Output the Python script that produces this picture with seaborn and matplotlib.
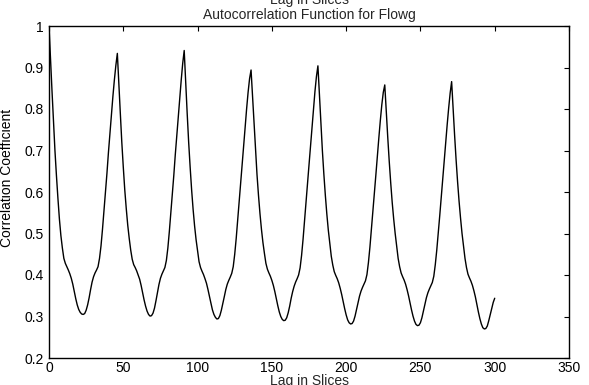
import matplotlib
matplotlib.use("Agg")
import matplotlib.pyplot as plt
import seaborn as sns
import numpy as np
import pandas as pd

# Lag (slices) and autocorrelation values, one per lag 0..300
lag = list(range(0, 301))
corr = [
    # 0-46
    1.0, 0.92, 0.845, 0.77, 0.70, 0.64, 0.585, 0.535, 0.495, 0.465,
    0.44, 0.428, 0.42, 0.412, 0.403, 0.392, 0.378, 0.36, 0.343, 0.328,
    0.317, 0.31, 0.306, 0.305, 0.307, 0.315, 0.328, 0.345, 0.365, 0.383,
    0.396, 0.405, 0.412, 0.42, 0.44, 0.47, 0.51, 0.555, 0.60, 0.645,
    0.695, 0.74, 0.785, 0.83, 0.87, 0.905,
    # 46-90
    0.934, 0.86, 0.79, 0.72, 0.66, 0.605, 0.56, 0.52, 0.488, 0.46,
    0.438, 0.425, 0.418, 0.41, 0.40, 0.39, 0.375, 0.357, 0.34, 0.325,
    0.313, 0.305, 0.301, 0.302, 0.308, 0.32, 0.338, 0.358, 0.377, 0.392,
    0.402, 0.41, 0.418, 0.435, 0.465, 0.505, 0.55, 0.595, 0.64, 0.69,
    0.735, 0.78, 0.825, 0.87, 0.91,
    # 91-135
    0.941, 0.865, 0.79, 0.72, 0.66, 0.605, 0.558, 0.518, 0.485, 0.458,
    0.432, 0.418, 0.409, 0.401, 0.391, 0.38, 0.365, 0.348, 0.332, 0.316,
    0.305, 0.298, 0.294, 0.295, 0.302, 0.315, 0.331, 0.348, 0.365, 0.378,
    0.387, 0.395, 0.404, 0.42, 0.45, 0.488, 0.532, 0.576, 0.62, 0.666,
    0.71, 0.755, 0.80, 0.84, 0.873,
    # 136-180
    0.894, 0.83, 0.762, 0.698, 0.642, 0.592, 0.548, 0.51, 0.478, 0.452,
    0.428, 0.414, 0.405, 0.397, 0.387, 0.375, 0.36, 0.343, 0.326, 0.311,
    0.30, 0.293, 0.29, 0.291, 0.297, 0.309, 0.325, 0.344, 0.36, 0.373,
    0.383, 0.391, 0.40, 0.417, 0.447, 0.486, 0.53, 0.574, 0.62, 0.665,
    0.71, 0.755, 0.80, 0.842, 0.878,
    # 181-225
    0.904, 0.835, 0.765, 0.70, 0.643, 0.592, 0.547, 0.508, 0.476, 0.445,
    0.424, 0.408, 0.399, 0.391, 0.381, 0.368, 0.353, 0.336, 0.319, 0.304,
    0.292, 0.285, 0.282, 0.283, 0.289, 0.301, 0.317, 0.334, 0.349, 0.361,
    0.37, 0.378, 0.386, 0.401, 0.43, 0.467, 0.51, 0.553, 0.597, 0.641,
    0.686, 0.73, 0.772, 0.81, 0.84,
    # 226-270
    0.858, 0.795, 0.732, 0.674, 0.622, 0.575, 0.535, 0.50, 0.47, 0.44,
    0.42, 0.405, 0.396, 0.388, 0.378, 0.365, 0.35, 0.333, 0.316, 0.301,
    0.289, 0.281, 0.278, 0.279, 0.285, 0.297, 0.313, 0.33, 0.345, 0.357,
    0.366, 0.374, 0.382, 0.397, 0.425, 0.46, 0.50, 0.543, 0.587, 0.632,
    0.676, 0.72, 0.762, 0.802, 0.838,
    # 271-300
    0.866, 0.80, 0.737, 0.678, 0.625, 0.578, 0.537, 0.50, 0.47, 0.44,
    0.418, 0.402, 0.393, 0.385, 0.375, 0.362, 0.347, 0.329, 0.311, 0.295,
    0.282, 0.273, 0.27, 0.271, 0.277, 0.29, 0.305, 0.32, 0.334, 0.344,
]

xticks = [0, 50, 100, 150, 200, 250, 300, 350]
yticks = [0.2, 0.3, 0.4, 0.5, 0.6, 0.7, 0.8, 0.9, 1.0]
ytick_labels = ["0.2", "0.3", "0.4", "0.5", "0.6", "0.7", "0.8", "0.9", "1"]

title_text = "Autocorrelation Function for Flowg"
top_text = "Lag in Slices"
xlabel_text = "Lag in Slices"
ylabel_text = "Correlation Coefficient"

sns.set_theme(style="white")
plt.rcParams["font.family"] = ["Liberation Sans", "DejaVu Sans"]
plt.rcParams["font.size"] = 10

df = pd.DataFrame({"lag": lag, "corr": corr})

W, H = 589, 385
fig = plt.figure(figsize=(W / 100, H / 100), dpi=100)
ax = fig.add_axes([49 / W, 1 - 358 / H, (569 - 49) / W, (358 - 26) / H])

sns.lineplot(data=df, x="lag", y="corr", ax=ax, color="black", linewidth=1.0,
             estimator=None, sort=False)

ax.set_xlim(0, 350)
ax.set_ylim(0.2, 1.0)
ax.set_xticks(xticks)
ax.set_xticklabels([str(t) for t in xticks])
ax.set_yticks(yticks)
ax.set_yticklabels(ytick_labels)
ax.tick_params(direction="in", length=3.5, width=0.8, colors="black",
               top=True, right=True, labelsize=10, pad=4)
ax.tick_params(axis="x", pad=2)
for s in ax.spines.values():
    s.set_color("black")
    s.set_linewidth(1.0)
    s.set_visible(True)

ax.set_xlabel("")
ax.set_ylabel(ylabel_text, fontsize=10, color="black")
ax.yaxis.set_label_coords(-0.067, 0.542)

fig.text((309) / W, 0.001, xlabel_text, ha="center", va="baseline", fontsize=10)
fig.text((309) / W, 1 - 19.5 / H, title_text, ha="center", va="baseline", fontsize=10)
fig.text((309) / W, 1 - 4 / H, top_text, ha="center", va="baseline", fontsize=10)

fig.savefig("out.png", dpi=100, facecolor="white")
